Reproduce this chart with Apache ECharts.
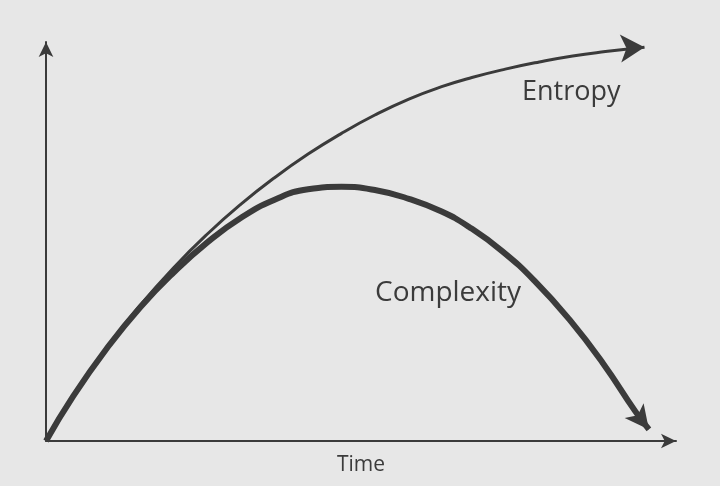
<!DOCTYPE html>
<html>
<head>
<meta charset="utf-8">
<script src="https://cdn.jsdelivr.net/npm/echarts@6/dist/echarts.min.js"></script>
<style>
html,body{margin:0;padding:0;background:#e7e7e7;}
#c{width:720px;height:486px;}
</style>
</head>
<body>
<div id="c"></div>
<script>
// Time (0-100) and level (0-100)
const complexityX = [0, 4.3, 9.7, 15.0, 20.3, 25.7, 30.9, 36.2, 41.6, 46.9, 52.2, 57.6, 62.8, 67.1, 72.4, 77.7, 83.1, 88.4, 93.6, 95.7];
const complexityY = [0, 11.2, 23.3, 33.6, 42.3, 49.9, 55.9, 60.4, 63.1, 63.7, 62.9, 60.7, 57.5, 53.7, 47.6, 39.9, 30.4, 19.5, 7.3, 2.9];
const entropyX = [0, 4.3, 9.7, 15.0, 20.3, 25.7, 30.9, 36.2, 41.6, 46.9, 52.2, 57.6, 62.8, 67.6, 72.9, 78.3, 83.6, 88.8, 95.0];
const entropyY = [0, 11.2, 23.5, 34.1, 43.5, 52.0, 59.3, 65.9, 71.9, 77.1, 81.7, 85.7, 88.8, 91.1, 93.2, 95.0, 96.5, 97.6, 98.7];
const seriesNames = ['Entropy', 'Complexity'];
const axisNames = ['Time'];

const ink = '#3b3b3b';
const font = '"Open Sans", "Noto Sans", sans-serif';

function pts(xs, ys, rot, size) {
  return xs.map((x, i) => {
    const p = {value: [x, ys[i]]};
    if (i === xs.length - 1) {
      p.symbol = 'arrow';
      p.symbolRotate = rot;
      p.symbolSize = size;
    } else {
      p.symbol = 'none';
    }
    return p;
  });
}

const chart = echarts.init(document.getElementById('c'), null, {renderer: 'canvas'});
chart.setOption({
  backgroundColor: '#e7e7e7',
  animation: false,
  grid: {left: 46, right: 44, top: 42, bottom: 45},
  xAxis: {
    type: 'value', min: 0, max: 100,
    name: axisNames[0], nameLocation: 'middle', nameGap: 14,
    nameTextStyle: {fontFamily: font, fontSize: 21, color: ink, verticalAlign: 'top'},
    axisLine: {show: true, symbol: ['none', 'arrow'], symbolSize: [11, 15], lineStyle: {color: ink, width: 2}},
    axisTick: {show: false}, axisLabel: {show: false}, splitLine: {show: false}
  },
  yAxis: {
    type: 'value', min: 0, max: 100,
    axisLine: {show: true, symbol: ['none', 'arrow'], symbolSize: [11, 15], lineStyle: {color: ink, width: 2}},
    axisTick: {show: false}, axisLabel: {show: false}, splitLine: {show: false}
  },
  series: [
    {
      name: seriesNames[0], type: 'line', smooth: true, showSymbol: true,
      data: pts(entropyX, entropyY, -87, [21, 24]),
      lineStyle: {color: ink, width: 3},
      itemStyle: {color: ink},
      z: 3
    },
    {
      name: seriesNames[1], type: 'line', smooth: true, showSymbol: true,
      data: pts(complexityX, complexityY, -142, [18, 24]),
      lineStyle: {color: ink, width: 6},
      itemStyle: {color: ink},
      z: 2
    }
  ],
  graphic: [
    {type: 'text', left: 522, top: 79, style: {text: seriesNames[0], font: '27px ' + font, fill: ink}},
    {type: 'text', left: 375, top: 279, style: {text: seriesNames[1], font: '28px ' + font, fill: ink}}
  ]
});
</script>
</body>
</html>
